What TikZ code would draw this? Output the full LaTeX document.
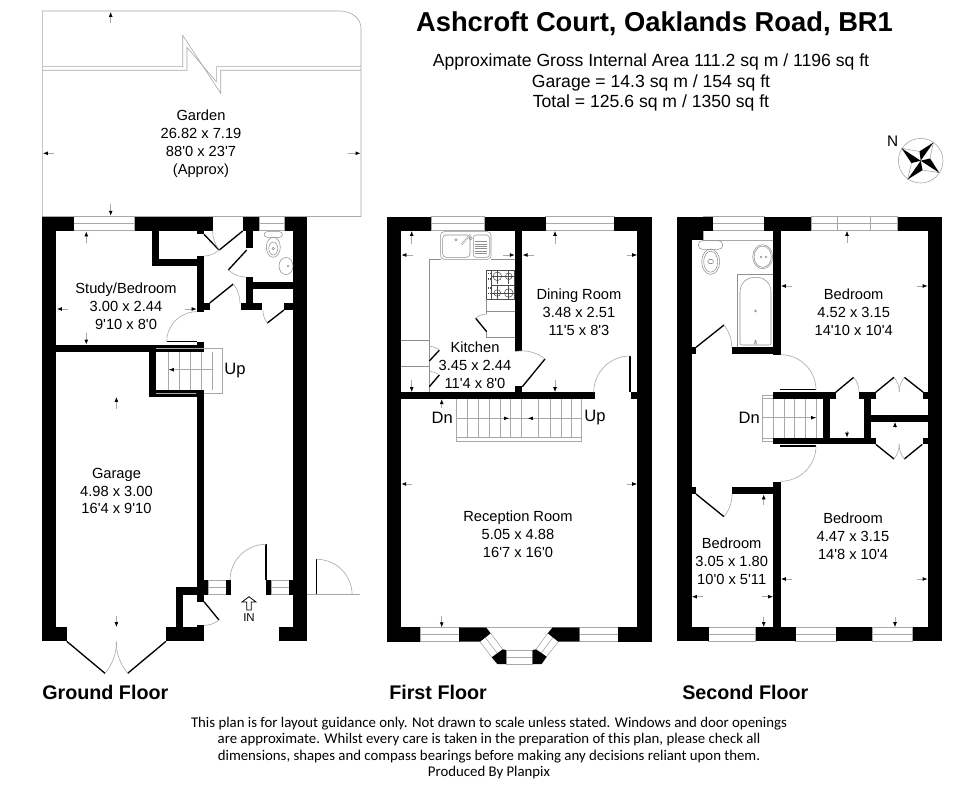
\documentclass[tikz,border=0pt]{standalone}
\usepackage{fontspec}
\usetikzlibrary{arrows.meta,calc}
\newfontfamily\ar{Liberation Sans}
\newfontfamily\cb{Carlito}
\definecolor{thin}{HTML}{A8A8A8}
\tikzset{
  thinln/.style={draw=thin,line width=.45pt},
  doorln/.style={draw=black,line width=1pt},
  fixt/.style={draw=thin!85!black,line width=.4pt},
  room/.style={align=center,inner sep=0pt,font=\ar\fontsize{11}{13.4}\selectfont},
  updn/.style={inner sep=0pt,font=\ar\fontsize{12.4}{14}\selectfont},
  floorlbl/.style={anchor=west,inner sep=0pt,font=\ar\bfseries\fontsize{14.8}{17}\selectfont},
  dimarr/.style={thinln,-{Latex[black,length=3.6pt,width=2.8pt]}},
}
\newcommand{\wl}[4]{\fill[black] (#1,#2) rectangle (#3,#4);}
\newcommand{\win}[4]{\draw[thinln] (#1,#2) rectangle (#3,#4) (#1,{(#2+#4)/2}) -- (#3,{(#2+#4)/2});}
\newcommand{\darr}[2]{\draw[dimarr] (#1) -- (#2);}
\newcommand{\sw}[3]{\draw[thinln] let \p1=(#1),\p2=(#2),\p3=(#3),\n1={atan2(\y2-\y1,\x2-\x1)},\n2={atan2(\y3-\y1,\x3-\x1)},\n3={veclen(\x2-\x1,\y2-\y1)},\n4={mod(\n2-\n1+540,360)-180} in (#2) arc[start angle=\n1,delta angle=\n4,radius=\n3];}
\newcommand{\door}[3]{\draw[doorln] (#1) -- (#2); \sw{#1}{#2}{#3}}
\begin{document}
\begin{tikzpicture}[x=.75pt,y=-.75pt]
\useasboundingbox (0,0) rectangle (980,795);
\fill[white] (0,0) rectangle (980,795);
% ---------- headings
\node[inner sep=0pt,font=\ar\bfseries\fontsize{20.5}{24}\selectfont] (title) at (654.5,24) {Ashcroft Court, Oaklands Road, BR1};
\node[align=center,inner sep=0pt,font=\ar\fontsize{13.2}{15.4}\selectfont] (areas) at (651,82.5) {Approximate Gross Internal Area 111.2 sq m / 1196 sq ft\\Garage = 14.3 sq m / 154 sq ft\\Total = 125.6 sq m / 1350 sq ft};
% ---------- compass
\draw[thinln] (920.7,160.7) circle (22.3);
\node[inner sep=0pt,font=\ar\fontsize{11.5}{13}\selectfont] (north) at (892.7,141.7) {N};
\coordinate (cc) at (920.7,160.7);
\coordinate (a1) at (901.7,148.3); \coordinate (a2) at (933.3,142.7);
\coordinate (a3) at (939,172.7);  \coordinate (a4) at (907.7,179.3);
\coordinate (b1) at (919.5,151.5); \coordinate (b2) at (930,158.5);
\coordinate (b3) at (922.5,170);  \coordinate (b4) at (911.5,163);
\fill[white] (a1)--(b1)--(a2)--(b2)--(a3)--(b3)--(a4)--(b4)--cycle;
\draw[thinln] (a1)--(b1)--(a2)--(b2)--(a3)--(b3)--(a4)--(b4)--cycle;
\fill[black] (a1)--(cc)--(b4)--cycle;
\fill[black] (a2)--(cc)--(b1)--cycle;
\fill[black] (a3)--(cc)--(b2)--cycle;
\fill[black] (a4)--(cc)--(b3)--cycle;
% ---------- garden
\draw[thinln] (42.3,216.7) -- (42.3,11) -- (340,11) .. controls (352,11) and (361,19) .. (361,28) -- (361,216.7);
\draw[thinln] (42.3,216.7) -- (361,216.7);
\draw[thinln] (42.3,66.7) -- (182.7,66.7) -- (182.7,35.3) -- (220.7,93.3) -- (220.7,70.3) -- (361,70.3);
\draw[thinln] (42.3,70.3) -- (187,70.3) -- (187,47.3) -- (216.3,81.7) -- (216.3,66.7) -- (361,66.7);
\darr{110.7,23}{110.7,12}
\darr{110.7,204}{110.7,215.7}
\darr{54,153.3}{43,153.3}
\darr{348,153.3}{360.5,153.3}
\node[room] (garden) at (201,143.5) {Garden\\26.82 x 7.19\\88\textquotesingle 0 x 23\textquotesingle 7\\(Approx)};
% ---------- ground floor: windows
\win{73.7}{216.7}{134.7}{230.7}
\win{259.3}{216.7}{284.7}{230.7}
\win{208.3}{580.3}{226}{594.7}
\win{271.3}{580.3}{289}{594.7}
% ground floor: walls
\wl{42.3}{216.7}{73.7}{230.7}
\wl{134.7}{216.7}{212.7}{230.7}
\wl{243.3}{216.7}{259.3}{230.7}
\wl{284.7}{216.7}{307.3}{230.7}
\wl{42.3}{216.7}{56.3}{641.3}
\wl{293.3}{216.7}{307.3}{641.3}
\wl{42.3}{627}{66.7}{641.3}
\wl{166}{627}{204}{641.3}
\wl{278.7}{627}{307.3}{641.3}
\wl{176}{587.3}{183.3}{627}
\wl{176}{587.3}{196.7}{594.7}
\wl{196.7}{390}{204}{601.7}
\wl{204}{580.3}{208.3}{594.7}
\wl{226}{580.3}{231}{594.7}
\wl{266}{580.3}{271.3}{594.7}
\wl{289}{580.3}{293.3}{594.7}
\wl{196.7}{625}{204}{627}
\wl{152}{230.7}{159}{266.3}
\wl{152}{259.3}{204}{266.3}
\wl{196.7}{230.7}{204}{234.3}
\wl{196.7}{255.7}{204}{312.3}
\wl{204}{303.3}{210}{310.3}
\wl{246}{230.7}{252.7}{248.3}
\wl{246}{277.3}{252.7}{310}
\wl{252.7}{282.3}{293.3}{289}
\wl{241}{303}{262.3}{310}
\wl{284}{303}{293.3}{310}
\wl{56.3}{344.7}{204}{352}
\wl{196.7}{342.3}{204}{352}
\wl{148.7}{352}{156}{396.7}
\wl{148.7}{390}{204}{396.7}
% ground floor: doors
\door{204,234.3}{219,250}{204,255.7}
\door{242.7,231}{219.3,250}{212.7,230.7}
\door{246.7,250}{228.3,270}{246,277.3}
\door{209.7,303}{233.3,284}{241,303.3}
\door{284,310}{267.3,323}{262.3,310}
\draw[doorln] (166.7,341.7) -- (196.7,341.7);
\sw{196.7,341.7}{166.7,341.7}{196.7,312.3}
\door{204,601.7}{219,620}{204,625}
\door{266,580.3}{266,544.3}{230.7,580.3}
\door{66.7,641.3}{105,673.3}{116.7,641.3}
\door{166,641.3}{127.7,673.3}{116.7,641.3}
\draw[doorln] (316.7,594.7) -- (316.7,559.3);
\sw{316.7,594.7}{316.7,559.3}{351.7,594.7}
\draw[thinln] (307.3,594.7) -- (360,594.7);
% ground floor: stairs
\draw[thinln] (204,348.7) -- (222.7,348.7) -- (222.7,393.7) -- (204,393.7);
\draw[thinln] (156,348.7) -- (204,348.7) (156,393.7) -- (196,393.7);
\foreach \tx in {168.3,179.3,190.3,201,212} \draw[thinln] (\tx,352) -- (\tx,390);
\draw[thinln] (212,369.7) -- (168.3,369.7);
\darr{178,369.7}{169,369.7}
% ground floor: WC
\draw[fixt,rounded corners=2pt] (264.3,231.7) rectangle (282.3,237.3);
\draw[fixt] (273.3,247.3) ellipse (7 and 10);
\draw[fixt] (273.3,248.5) ellipse (4.5 and 6.5);
\draw[fixt] (273.3,248.5) circle (1.2);
\draw[fixt] (286,266) ellipse (7 and 8.5);
\draw[fixt] (288,266) circle (.7);
% ground floor: dimension arrows and labels
\darr{86.3,243.3}{86.3,231.5}
\darr{86.3,333.3}{86.3,344.5}
\darr{68.3,309}{57,309}
\darr{185,309}{196.5,309}
\darr{116.4,409}{116.4,397}
\darr{116.4,616}{116.4,627}
\node[room] (study) at (126,306.5) {Study/Bedroom\\3.00 x 2.44\\9\textquotesingle 10 x 8\textquotesingle 0};
\node[room] (garage) at (116.5,491) {Garage\\4.98 x 3.00\\16\textquotesingle 4 x 9\textquotesingle 10};
\node[updn] (upg) at (235,371) {Up};
\draw[thin,line width=.6pt,fill=white,line join=miter] (246.7,610) -- (246.7,602) -- (242,602) -- (249,596.7) -- (256,602) -- (251.3,602) -- (251.3,610) -- cycle;
\node[inner sep=0pt,font=\ar\fontsize{8.6}{10}\selectfont] (inlbl) at (249,617.7) {IN};
% ---------- first floor: windows
\win{431}{216.7}{484.7}{230.7}
\win{545.7}{216.7}{614.3}{230.7}
\win{420}{627.3}{459}{641.7}
\win{579.3}{627.3}{618.3}{641.7}
% bay
\draw[thinln] (486,627.3) -- (552.7,627.3);
\coordinate (ba) at (490.7,633.3); \coordinate (bb) at (480,641.7);
\coordinate (bc) at (502.7,649.3); \coordinate (bd) at (491.7,657.3);
\draw[thinln] (ba) -- (bc) (bb) -- (bd) ($(ba)!.5!(bb)$) -- ($(bc)!.5!(bd)$);
\coordinate (be) at (547.7,633.3); \coordinate (bf) at (558.3,641.7);
\coordinate (bg) at (536,649.3); \coordinate (bh) at (546,657.3);
\draw[thinln] (be) -- (bg) (bf) -- (bh) ($(be)!.5!(bf)$) -- ($(bg)!.5!(bh)$);
\win{506}{650}{532.7}{664}
% first floor: walls
\wl{386.7}{216.7}{431}{230.7}
\wl{484.7}{216.7}{545.7}{230.7}
\wl{614.3}{216.7}{652}{230.7}
\wl{386.7}{216.7}{401}{641.7}
\wl{637.3}{216.7}{652}{641.7}
\wl{386.7}{627.3}{420}{641.7}
\wl{618.3}{627.3}{652}{641.7}
\fill[black] (459,627.3) -- (486,627.3) -- (490.7,633.3) -- (480,641.7) -- (459,641.7) -- cycle;
\fill[black] (579.3,627.3) -- (552.7,627.3) -- (547.7,633.3) -- (558.3,641.7) -- (579.3,641.7) -- cycle;
\fill[black] (502.7,649.3) -- (506,650) -- (506,664) -- (497.3,664) -- (491.7,657.3) -- cycle;
\fill[black] (532.7,650) -- (536,649.3) -- (546.7,656.7) -- (541.7,664) -- (532.7,664) -- cycle;
\wl{515}{230.7}{522.3}{350.7}
\wl{515}{386}{522.3}{392.3}
\wl{401}{392.3}{594.7}{399}
\wl{630.7}{392.3}{637.3}{399}
% first floor: doors
\draw[doorln] (630,392.3) -- (630,356);
\sw{630,392.3}{630,356}{594.7,392.3}
\door{522.3,386.7}{545,359}{515,350.7}
% kitchen fittings
\draw[fixt] (429.3,392.3) -- (429.3,259.3) -- (440.7,259.3);
\draw[fixt] (491,259.3) -- (515,259.3);
\draw[fixt,rounded corners=2.5pt] (440.7,231.7) rectangle (491,259.3);
\draw[fixt,rounded corners=2.5pt] (442.7,235) rectangle (470,257.3);
\draw[fixt,rounded corners=2pt] (473.3,235) rectangle (489.3,257.3);
\foreach \hy in {241.7,244,246.3,248.6,250.9,253.2} \draw[fixt] (475,\hy) -- (487.3,\hy);
\draw[fixt] (456,239.7) circle (1.2) (470.7,238.3) circle (1.6);
\draw[fixt,line width=1.2pt] (461.7,244.3) -- (470.7,234.3);
\draw[white,line width=.5pt] (461.7,244.3) -- (470.7,234.3);
\draw[black!70,line width=.5pt] (486.7,270.7) rectangle (514.3,299.3) (491.7,270.7) -- (491.7,299.3) (491.7,285) -- (514.3,285);
\draw[black!70,line width=.4pt] (497.3,276.3) circle (4.3) (508.7,276.3) circle (3.3) (497.3,293) circle (3.3) (508.7,293) circle (4.3);
\draw[black!70,line width=.4pt] (491.7,276.3) -- (514.3,276.3) (497.3,271) -- (497.3,284) (508.7,271) -- (508.7,284) (491.7,293) -- (514.3,293) (497.3,286) -- (497.3,299) (508.7,286) -- (508.7,299);
\foreach \ky in {273.5,279,288,293.5} \draw[black!70,line width=.8pt,densely dotted] (487.8,\ky) -- (490.8,\ky);
\draw[fixt] (486.7,299.3) -- (486.7,314) (486.7,311) -- (515,311);
\draw[fixt] (486.7,331.7) -- (486.7,337.3) -- (515,337.3);
\draw[doorln] (475.7,318.3) -- (486.7,331.7);
\draw[thinln] (475.7,318.3) .. controls (478,316) and (482,314) .. (486.7,314);
\draw[fixt] (401,340) -- (429.3,340) (401,366.7) -- (429.3,366.7);
\door{429.3,361}{439.3,350.3}{429.3,346.7}
\door{429.3,386.7}{439.3,375}{429.3,370.7}
% first floor: stairs
\draw[thinln] (456.3,399) -- (456.3,441) -- (581.7,441) -- (581.7,399);
\draw[thinln] (456.3,437.7) -- (581.7,437.7);
\foreach \tx in {467.7,478.7,489.3,500,510.7,521.3,538.7,550,561,571.7} \draw[thinln] (\tx,399) -- (\tx,437.7);
\draw[thinln] (456.3,418.3) -- (581.7,418.3);
\draw[dimarr] (502,418.3) -- (509,418.3);
\draw[dimarr] (536,418.3) -- (528,418.3);
% first floor: dimension arrows and labels
\darr{411.7,244.3}{411.7,231}
\darr{411.7,380}{411.7,392}
\darr{413,255}{401.5,255}
\darr{503,255}{514.7,255}
\darr{555,244}{555,231}
\darr{555,380}{555,392}
\darr{534,255}{522.7,255}
\darr{626.7,255}{637,255}
\darr{441.7,408}{441.7,399.2}
\darr{441.7,616}{441.7,627.2}
\darr{412,484}{401.3,484}
\darr{626.7,484}{637,484}
\node[room] (kitchen) at (475,365.3) {Kitchen\\3.45 x 2.44\\11\textquotesingle 4 x 8\textquotesingle 0};
\node[room] (dining) at (579,312) {Dining Room\\3.48 x 2.51\\11\textquotesingle 5 x 8\textquotesingle 3};
\node[room] (reception) at (518,534) {Reception Room\\5.05 x 4.88\\16\textquotesingle 7 x 16\textquotesingle 0};
\node[updn] (dn1) at (442.3,418) {Dn};
\node[updn] (up1) at (595,418) {Up};
% ---------- second floor: windows
\win{703.3}{216.7}{764.3}{230.7}
\draw[thinln] (703.3,230.7) -- (703.3,240) -- (773.3,240);
\win{811}{216.7}{897.7}{230.7}
\draw[thinln] (837.3,216.7) -- (837.3,230.7) (870.7,216.7) -- (870.7,230.7);
\win{708.7}{627}{755.7}{641.3}
\win{795.7}{627}{836}{641.3}
\win{872.3}{627}{912.7}{641.3}
% second floor: walls
\wl{677}{216.7}{712.7}{230.7}
\wl{764.3}{216.7}{811}{230.7}
\wl{897.7}{216.7}{942}{230.7}
\wl{677}{216.7}{691.7}{641.3}
\wl{927.7}{216.7}{942}{641.3}
\wl{691.7}{230.7}{703.3}{240}
\wl{677}{627}{708.7}{641.3}
\wl{755.7}{627}{795.7}{641.3}
\wl{836}{627}{872.3}{641.3}
\wl{912.7}{627}{942}{641.3}
\wl{773.3}{230.7}{780.7}{355}
\wl{731.7}{347.3}{780.7}{354.3}
\wl{691.7}{347.3}{696}{354.3}
\wl{773.3}{391.7}{835.7}{399}
\wl{773.3}{437.7}{875.7}{444.3}
\wl{823.3}{391.7}{830.3}{437.7}
\wl{864}{391.7}{871}{437.7}
\wl{859}{391.7}{875.7}{399}
\wl{871}{415}{927.7}{421.7}
\wl{923.3}{392.3}{927.7}{399}
\wl{923.3}{437.7}{927.7}{444.3}
\wl{773.3}{482.3}{780.7}{641.3}
\wl{731.7}{487.3}{780.7}{494}
\wl{691.7}{487.3}{696}{494}
% second floor: doors
\door{696,347.3}{724,325}{731.7,347.3}
\draw[doorln] (780,389.7) -- (816,389.7);
\sw{780.7,390}{816,390}{780.7,355.7}
\draw[doorln] (780,446) -- (816,446);
\sw{780.7,446}{816,446}{780.7,482.3}
\door{835.7,392.3}{853.7,377.3}{859,392}
\door{875.7,392.3}{894,377.3}{899.3,392}
\door{923.3,392.3}{904.3,377.3}{899.3,392}
\door{875.7,444.3}{894,459}{899.3,444}
\door{922.3,444.3}{904.3,459}{899.3,444}
\door{696,494}{724,516.7}{731.7,494}
% second floor: stairs
\draw[thinln] (773.3,395.7) -- (762.3,395.7) -- (762.3,441) -- (773.3,441);
\draw[thinln] (762.3,398) -- (773.3,398) (762.3,438.7) -- (773.3,438.7);
\foreach \tx in {773.3,784,794.7,805.7,816.7} \draw[thinln] (\tx,399) -- (\tx,437.7);
\draw[thinln] (762.3,417.7) -- (816.7,417.7);
\darr{808,417.7}{816,417.7}
% bathroom fittings
\draw[fixt,rounded corners=3pt] (698.3,240.7) rectangle (722.7,249.3);
\draw[fixt] (710.7,261.7) ellipse (9 and 12.7);
\draw[fixt] (710.7,261.7) ellipse (7 and 10.5);
\draw[fixt,rounded corners=1pt] (708,259.5) rectangle (713.4,263.5);
\draw[fixt] (762.7,256.7) ellipse (10 and 12);
\draw[fixt] (762.7,256.7) ellipse (8.6 and 10.6);
\draw[fixt] (761,257) circle (.7) (766,257) circle (.7);
\draw[fixt] (737.7,347.3) -- (737.7,274) -- (773.3,274);
\draw[fixt,rounded corners=1.5pt] (740,345) -- (740,294) .. controls (740,283) and (747,277.3) .. (755.5,277.3) .. controls (764,277.3) and (771,283) .. (771,294) -- (771,345) -- cycle;
\draw[fixt] (755.5,311) circle (1);
\draw[fixt] (755.5,343) circle (1.2) (755.5,341) circle (.8);
% second floor: dimension arrows and labels
\darr{847,243}{847,231}
\darr{847,431}{847,437.5}
\darr{895,428}{895,422}
\darr{792,286}{781,286}
\darr{916.7,286}{927.5,286}
\darr{895,616.7}{895,627}
\darr{792,579}{781,579}
\darr{916.7,579}{927.5,579}
\darr{763.7,505}{763.7,494.5}
\darr{763.7,616.7}{763.7,627}
\darr{703,596.7}{692,596.7}
\darr{762,596.7}{773,596.7}
\node[room] (bed1) at (853.7,312) {Bedroom\\4.52 x 3.15\\14\textquotesingle 10 x 10\textquotesingle 4};
\node[room] (bed2) at (853,536) {Bedroom\\4.47 x 3.15\\14\textquotesingle 8 x 10\textquotesingle 4};
\node[room] (bed3) at (731.7,561) {Bedroom\\3.05 x 1.80\\10\textquotesingle 0 x 5\textquotesingle 11};
\node[updn] (dn2) at (749.3,418) {Dn};
% ---------- floor labels
\node[floorlbl] (gf) at (42,692) {Ground Floor};
\node[floorlbl] (ff) at (389,692) {First Floor};
\node[floorlbl] (sf) at (682,692) {Second Floor};
% ---------- footer
\node[align=center,inner sep=0pt,font=\cb\fontsize{11.1}{12.2}\selectfont] (foot) at (489,748) {This plan is for layout guidance only. Not drawn to scale unless stated. Windows and door openings\\are approximate. Whilst every care is taken in the preparation of this plan, please check all\\dimensions, shapes and compass bearings before making any decisions reliant upon them.\\Produced By Planpix};
\end{tikzpicture}
\end{document}
